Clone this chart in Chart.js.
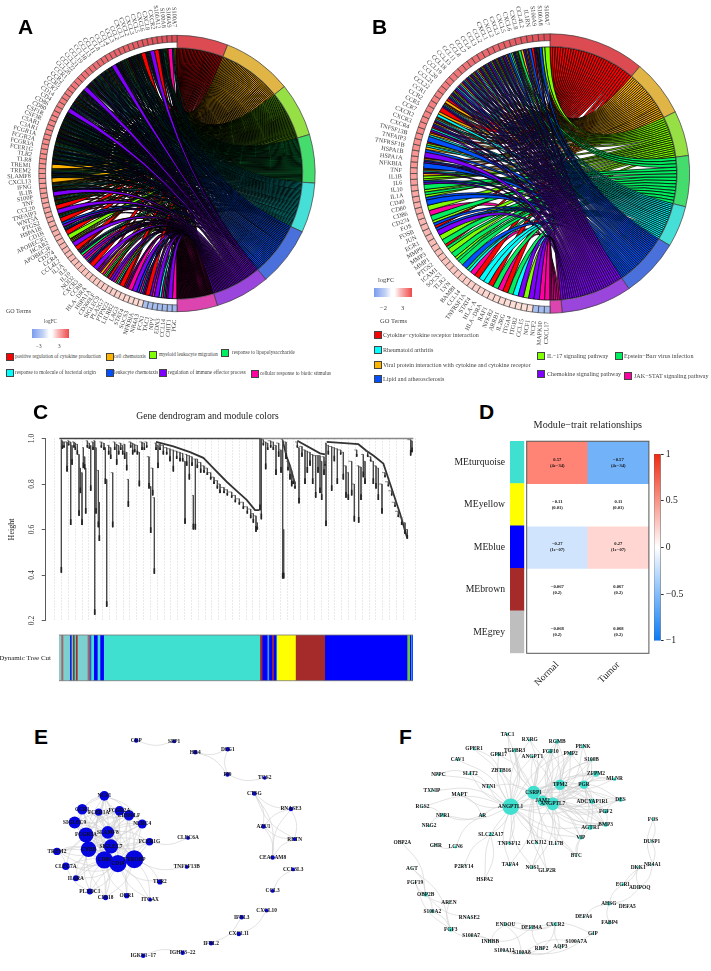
<!DOCTYPE html>
<html><head><meta charset="utf-8">
<script src="https://cdn.jsdelivr.net/npm/chart.js@4"></script>
<style>
html,body{margin:0;padding:0;background:#fff;width:711px;height:971px;overflow:hidden}
#p{position:relative;width:711px;height:971px;font-family:"Liberation Serif",serif;color:#333}
canvas{position:absolute}
.t{position:absolute;white-space:nowrap;line-height:1;transform:translateY(-50%)}
.s{position:absolute;border:1px solid #444;box-sizing:border-box;transform:translateY(-50%)}
.L{position:absolute;font:bold 21px "Liberation Sans",sans-serif;color:#000;line-height:1}
.g{position:absolute;height:9px}
</style></head><body><div id="p"></div>
<script>
// ---------- Panel A / B chord data ----------
const termNamesA=["positive regulation of cytokine production","cell chemotaxis","myeloid leukocyte migration","response to lipopolysaccharide","response to molecule of bacterial origin","leukocyte chemotaxis","regulation of immune effector process","cellular response to biotic stimulus"];
const termDegA=[21.5,29.5,22.6,20.4,21,25,23,17];
const geneA=["S100A7","S100A9","S100A8","S100A12","CXCR2","CXCL8","CXCL6","CXCL5","CXCL3","CXCL2","CXCL1","CCL2","CCL3","CCL4","CCL7","CCL8","CCL11","CCL13","CCL18","CCL19","CCL21","CCL22","CCL26","CCR1","CCR2","CCR5","CCR7","CD14","CD4","CD86","CD80","CSF1R","CSF3R","C5AR1","C3AR1","FCGR1A","FCGR2A","FCGR3A","FCER1G","TLR2","TLR8","TREM1","TREM2","SLAMF8","CXCL13","IFNG","IL1B","S100P","TNF","CCL20","TNFAIP3","WNT5A","PTGS2","HSPA1B","CD1B","APOBEC3G","HCAR2","APOBEC3F","CD274","CCR4","CCL4L2","IL1A","IL6","IL10","NOD2","CXCR3","CCR8","HLA\u2212DRA","HSPA1A","CD300LF","SIGLEC9","PLA2G7","PTPN22","LILRB2","LAG3","STAT4","SOCS3","NFKBIA","NR4A3","FCN1","TAC1","NPY","EDN3","CCL14","CHIT1","PGC"];
const logFCA=[3.0,2.9,2.9,2.8,2.8,2.7,2.7,2.6,2.6,2.5,2.5,2.5,2.4,2.4,2.3,2.3,2.3,2.2,2.2,2.1,2.1,2.1,2.0,2.0,2.0,1.9,1.9,1.9,1.8,1.8,1.8,1.7,1.7,1.7,1.6,1.6,1.6,1.5,1.5,1.5,1.5,1.4,1.4,1.4,1.3,1.3,1.3,1.3,1.2,1.2,1.2,1.2,1.1,1.1,1.1,1.1,1.0,1.0,1.0,1.0,.95,.95,.9,.9,.85,.85,.8,.8,.78,.75,.75,.72,.7,.68,.65,.62,.6,.58,.55,-1.0,-1.1,-1.2,-1.3,-1.4,-1.6,-1.8];
const geneTermsA=["0125","7","01234","1234567","0","6","12357","0","123457","012357","1234567","012347","123467","1234567","6","123457","012357","1234567","123457","1234567","1234567","0123457","6","1234567","123467","1234571","0123456","123457","6","1234567","0123457","123457","123457","012367","1234567","0123457","12347","012457","123457","123457","012357","1","12357","0123457","1","01247","012357","6","01247","01237","0","6","02347","0","56","0457","0","2","0127","6","0","0467","37","67","4567","0","6","067","17","237","06","67","247","0","067","7","6","57","467","0","67","6","47","367","6","7"];
const termNamesB=["Cytokine\u2212cytokine receptor interaction","Viral protein interaction with cytokine and cytokine receptor","IL\u221217 signaling pathway","Epstein\u2212Barr virus infection","Rheumatoid arthritis","Lipid and atherosclerosis","Chemokine signaling pathway","JAK\u2212STAT signaling pathway"];
const termDegB=[40,23.8,18.8,21.2,17.2,24.6,29.4,5];
const geneB=["S100A7","S100A8","S100A9","IL1RN","CCL4L2","CXCL8","CXCL6","CXCL5","CXCL3","CXCL2","CXCL1","CCL2","CCL3","CCL4","CCL7","CCL8","CCL11","CCL13","CCL18","CCL19","CCL20","CCL21","CCL22","CCR1","CCR2","CCR5","CCR7","CXCR2","CXCR3","CXCR4","TNFSF13B","TNFAIP3","TNFRSF1B","HSPA1B","HSPA1A","NFKBIA","TNF","IL1B","IL6","IL10","IL1A","CD40","CD80","CD86","CD274","FOS","FOSB","JUN","EGR1","MMP9","MMP3","MMP1","PTGS2","ICAM1","SOCS3","TLR2","LYN","BAMBI","CCL14","TNFRSF1A","STAT4","HLA\u2212A","HLA\u2212DRA","RAF1","NFKB2","ARRB1","IL2RG","ITGA4","ITGB2","CCL15","NCF1","NCF2","MAPK10","CXCL17"];
const logFCB=[3.0,2.9,2.8,2.8,2.7,2.6,2.6,2.5,2.5,2.4,2.4,2.3,2.3,2.2,2.2,2.1,2.1,2.0,2.0,2.0,1.9,1.9,1.8,1.8,1.8,1.7,1.7,1.6,1.6,1.6,1.5,1.5,1.5,1.4,1.4,1.4,1.3,1.3,1.3,1.2,1.2,1.2,1.1,1.1,1.1,1.0,1.0,1.0,.95,.95,.9,.9,.85,.85,.8,.8,.78,.75,.72,.7,.68,.65,.62,.6,.58,.56,.54,.52,.5,.48,.46,-1.1,-1.4,-1.6];
const geneTermsB=["2","25","013567","05","0156","13","01356","245","0156","01456","01256","0256","01456","01256","0146","01256","01456","01456","0146","0456","01256","01456","01","01456","0","14","0146","0156","046","014","5","024","15","6","0156","5","0146","12","256","3","23","25","5","2","7","3","25","05","6","2","3","03","2","3","23","3","5","34","7","0","4","4","0","3","7","0","3","4","6","2","6","6","7","7"];
const ringColors=["#dc4a52","#e0b545","#96e045","#45dc6e","#45dfd8","#4a70dc","#9a45dc","#dc45b0"];
const ribbonColors=["#ff0000","#ffb400","#7fff00","#00ee60","#00ffff","#0050ff","#8000ff","#ff00a0"];
const ribbonOrder=[7,0,1,2,3,4,5,6];
// ---------- Panel C data (x = gene position, y = height) ----------
const stemX=[184,187,192,201,206,212,216,222,226,232,237,241,246,250,254,257,262,268,272,279,284,288,295,298,304,312,316,320,326,332,338,344,350,356,362,368,374,380,385,392,398,404,412,418,426,433,440,447,452,458,463,468,474,480,490,500,510,520,530,540,548,555,560,568,576,580,586,592,602,612,622,632,642,652,660,672,682,695,706,718,730,742,752,760,768,772,780,784,790,797,803,812,820,828,836,843,848,851,858,864,870,875,880,885,892,897,906,915,922,930,938,947,954,960,965,972,975,978,985,995,1003,1012,1022,1030,1038,1045,1055,1063,1070,1076,1083,1090,1095,1103,1112,1120,1128,1135,1146,1155,1165,1175,1185,1195,1205,1215,1222,1232,1236];
const stemTop=[.995,.99,.985,.985,.99,.985,.97,.985,.98,.975,.93,.87,.85,.96,.92,.87,.99,.98,.97,.985,.99,.96,.86,.72,.985,.98,.96,.82,.97,.96,.85,.985,.975,.97,.98,.97,.975,.94,.82,.985,.98,.975,.97,.94,.985,.98,.985,.92,.79,.87,.74,.98,.97,.975,.97,.96,.955,.95,.945,.94,.935,.90,.93,.925,.92,.75,.91,.91,.895,.88,.87,.85,.83,.815,.80,.785,.775,.765,.75,.735,.72,.70,.69,.67,.66,.63,1,1,.995,.985,.98,.99,.985,.97,.98,.95,.995,.60,.985,.9,.88,.86,.83,.81,.985,.96,.965,.95,.945,.94,.93,.925,.925,.925,.9,.92,.9,.98,.97,.965,.96,.955,.95,.94,.88,.85,.9,.8,.95,.88,.875,.93,.9,.945,.92,.90,.88,.87,.80,.85,.81,.77,.72,.68,.655,.63,.60,.995,.99];
const stemBottom=[.41,.955,.96,.855,.97,.62,.885,.96,.95,.93,.66,.76,.62,.87,.865,.67,.96,.955,.77,.95,.225,.67,.61,.55,.96,.95,.80,.26,.93,.91,.61,.95,.885,.93,.95,.93,.91,.86,.70,.96,.93,.94,.93,.79,.95,.95,.96,.78,.585,.75,.405,.95,.87,.95,.93,.93,.90,.855,.91,.90,.90,.625,.88,.82,.88,.60,.60,.87,.85,.85,.84,.82,.80,.78,.76,.76,.75,.74,.72,.71,.69,.67,.65,.63,.59,.60,.685,.645,.97,.865,.95,.96,.95,.84,.92,.85,.385,.385,.91,.86,.82,.79,.80,.78,.96,.715,.92,.80,.85,.88,.80,.74,.85,.76,.73,.84,.88,.615,.93,.77,.90,.80,.93,.82,.74,.73,.75,.635,.92,.63,.73,.83,.80,.92,.90,.80,.78,.73,.67,.83,.79,.75,.70,.655,.62,.58,.56,.925,.94];
const stairX=[[468,520,570,610,640,680,710,740,765,778],[848,860,870,885],[892,960,975],[980,1075,1100,1120,1150,1175,1200,1222]];
const stairH=[[.985,.965,.94,.915,.87,.81,.77,.73,.685,.685],[.99,.92,.88,.80],[.99,.935,.93],[.985,.975,.945,.925,.89,.78,.67,.56]];
const heightTicks=[.2,.4,.6,.8,1];
const cutWidths=[6,6,20,5,4,5,4,5,30,6,5,8,11,8,11,469,7,15,5,9,5,8,2,56,88,247,8,4,3,3];
const cutColors=["#8cc9c9","#a06868","#7dd0d0","#1a1ae0","#40e0d0","#a52a2a","#40e0d0","#a52a2a","#7dd0d0","#a06868","#4050d0","#40e0d0","#0000ff","#40e0d0","#0000ff","#40e0d0","#a52a2a","#0000ff","#40a0d0","#0000ff","#a52a2a","#0000ff","#40e0d0","#ffff00","#a52a2a","#0000ff","#70c050","#0000ff","#40e0d0","#0000ff"];
// ---------- Panel D data ----------
const modules=["MEturquoise","MEyellow","MEblue","MEbrown","MEgrey"];
const moduleColors=["#40e0d0","#ffff00","#0000ff","#a52a2a","#bebebe"];
const traits=["Normal","Tumor"];
const corrNormal=[.57,-.11,-.27,-.067,-.068];
const corrTumor=[-.57,.11,.27,.067,.068];
const pNormal=["4e\u221234","0.01","1e\u221207","0.2","0.2"];
const pTumor=["4e\u221234","0.01","1e\u221207","0.2","0.2"];
const colorbarTicks=[-1,-.5,0,.5,1];
// ---------- Panel E data ----------
const nodesE=["CRP","SPP1","HR4","DSG1","PI9","TGS2","CTSG","RNASE3","AZU1","RETN","CEACAM8","CCL3L3","CCL3","CXCL10","IFNL3","CXCL11","IFNL2","IGHV3\u221222","IGKV1\u221217","NCF1","CCR1","FCER1A","FCGR2A","CD300LF","SIGLEC9","NLRC4","FCGR3A","SLAMF8","SIGLEC7","FCER1G","CLEC6A","CYBB","TREM2","CD86","CD14","TYROBP","TNFSF13B","CLEC7A","IL1RA","TLR2","PLXDC1","CD118","OLR1","ITGAX"];
const xE=[403,523,590,693,692,810,777,893,806,905,835,900,835,816,737,728,640,550,425,302,232,284,350,380,208,422,244,313,323,445,567,252,152,302,345,397,563,180,212,478,256,306,373,447];
const yE=[117,120,155,145,226,237,287,337,393,434,493,531,600,663,684,738,768,798,808,295,338,347,343,357,380,385,420,412,457,442,430,466,473,500,512,498,523,521,559,571,602,621,615,628];
const degE=[6,5,6,6,6,5,6,6,6,5,6,5,5,5,6,6,6,6,6,13,14,10,13,14,16,12,20,17,19,10,5,21,10,23,23,24,5,10,8,7,8,7,7,5];
const hubsE=[[0,[1]],[2,[3,4]],[3,[4]],[4,[5]],[6,[7,8,10,9]],[7,[9,8,10]],[8,[9,10]],[9,[10]],[11,[12]],[13,[15]],[14,[16]],[17,[18]],
[35,[19,20,21,22,23,24,25,26,27,28,29,31,32,33,34,36,37,38,39,40,41,42,43]],[34,[19,20,21,22,23,24,25,26,27,28,29,31,32,33,37,38,39,40,41,42,43]],[33,[19,20,21,22,23,24,25,26,27,28,29,31,32,37,38,40,41,42,43]],[31,[19,20,21,22,23,24,25,26,27,28,29,32,37,38,40,41]],[26,[19,20,21,22,23,24,25,27,28,29,32,37,38,41]],[28,[19,20,21,22,23,24,25,27,29,32]],[27,[19,20,21,22,23,24,25,29]],[19,[20,21,22,23,24,25]],[22,[20,21,23,24,25]],[20,[21,23,24]],[23,[21,24,25]],[29,[30]],[37,[32,40]]];
// ---------- Panel F data ----------
const nodesF=["TAC1","RXRG","RGMB","PENK","FGF10","PMP2","TGFBR3","GPR17","GPER1","ANGPT1","CAV1","S100B","ZBTB16","SLIT2","NPPC","ZFPM2","MLNR","TPM2","PGR","NTN1","TXNIP","MAPT","CSRP1","DES","ADCYAP1R1","JAM2","ANGPTL7","ANGPTL1","RGS2","NPR1","AR","FGF2","NRG2","BMP3","AGTR1","SLC22A17","VIP","KCNJ12","IL17B","TNFSF12","GHR","LCN6","OBP2A","BTC","TAFA4","P2RY14","NOS1","GLP2R","HSPA2","AGT","FGF19","OBP2B","AREN","S100A2","RNASE2","FGF3","S100A7","ENDOU","INHBB","DEFB4A","CXCR2","GIP","S100A7A","AQP3","RBP2","S100A8","S100A12","DEFA6","DEFA5","FABP4","AHSG","ADIPOQ","EGR1","DKK1","NR4A1","DUSP1","FOS"];
const xF=[500,570,656,737,635,698,522,472,395,578,343,764,480,383,283,778,836,665,740,441,263,349,582,855,766,610,642,510,233,297,421,808,254,808,760,448,730,591,652,505,275,337,170,716,508,363,578,624,428,200,210,243,316,264,380,322,386,494,446,576,650,768,716,666,607,545,490,739,876,820,818,915,862,910,955,953,957];
const yF=[99,117,122,138,153,161,151,163,146,170,180,181,216,225,228,225,242,260,260,267,279,290,285,308,313,311,321,330,330,357,358,345,392,388,396,418,429,446,449,447,453,459,446,487,516,520,524,534,563,526,571,610,636,664,684,722,742,707,760,716,705,735,759,776,783,797,789,681,649,701,640,589,578,523,515,440,370];
const degF=[4,4,6,5,6,5,5,5,4,4,4,4,4,4,3,8,5,14,11,4,3,3,18,6,7,14,17,22,3,5,4,6,3,6,7,5,5,4,3,4,3,4,2,3,4,2,4,2,2,2,2,6,2,5,3,6,3,4,3,4,5,3,2,3,3,3,3,3,2,4,5,3,4,3,3,3,3];
const hubsF=[[27,[0,1,2,6,7,8,9,10,12,13,14,19,20,21,22,24,25,26,28,29,30,35,37,38,39,44,46,17,18,34,36,47,48,33,3]],[22,[0,1,2,4,5,6,7,9,11,12,15,16,17,18,19,23,24,25,26,31,33,34,36,37,38,39,43,44,46,47]],[26,[1,2,3,4,5,6,9,11,15,16,17,18,23,24,25,31,33,34,36,37,38,43,46]],[25,[2,4,5,9,11,15,17,18,23,24,31,33,34,36]],[17,[2,3,4,5,11,15,16,18,23,24,31,33,34]],[18,[3,5,11,15,16,23,24,31,33,34,36]],[13,[19,14]],[8,[12]],[29,[28,30,32]],[30,[21,41]],[40,[41]],[45,[35]],[48,[35]],[24,[31]],[31,[33,23]],[33,[34]],[36,[43]],[34,[43]],[49,[51,55]],[50,[51,55]],[51,[42,52,53,54]],[52,[55]],[53,[55]],[55,[56]],[56,[58,66]],[57,[58,59,60,65]],[58,[59]],[59,[60,61,64]],[60,[63,64]],[62,[65]],[63,[65]],[64,[66]],[66,[65]],[61,[65]],[70,[67,69,68,71,72]],[71,[73,74]],[72,[73,74]],[74,[75,76]],[75,[76]]];

// ---------- Layout helpers ----------
const root=document.getElementById('p');
Chart.defaults.font.family='"Liberation Serif",serif';
Chart.defaults.color='#222';
Chart.defaults.animation=false;
Chart.defaults.plugins.legend.display=false;
Chart.defaults.plugins.tooltip.enabled=false;
function mk(left,top,w,h,cfg){
  const c=document.createElement('canvas');c.width=w;c.height=h;
  c.style.cssText=`left:${left}px;top:${top}px;width:${w}px;height:${h}px`;root.appendChild(c);
  cfg.options=Object.assign({responsive:false,maintainAspectRatio:false},cfg.options);
  return new Chart(c,cfg);
}
function text(s,x,y,size,extra){const d=document.createElement('div');d.className='t';d.textContent=s;
  d.style.cssText=`left:${x}px;top:${y}px;font-size:${size}px;`+(extra||'');root.appendChild(d);}
function swatch(c,x,y,w,h){const d=document.createElement('div');d.className='s';
  d.style.cssText=`left:${x}px;top:${y}px;width:${w}px;height:${h}px;background:${c}`;root.appendChild(d);}
function letter(s,x,y){const d=document.createElement('div');d.className='L';d.textContent=s;
  d.style.cssText=`left:${x}px;top:${y}px`;root.appendChild(d);}
function gradBar(x,y,w){const d=document.createElement('div');d.className='g';
  d.style.cssText=`left:${x}px;top:${y}px;width:${w}px;background:linear-gradient(90deg,#7a9cee,#c4d2f6 30%,#fff 46%,#fff 54%,#f9b8b8 70%,#ee4a4a)`;root.appendChild(d);}
function lerpHex(a,b,t){const p=h=>[1,3,5].map(i=>parseInt(h.substr(i,2),16));const A=p(a),B=p(b);
  return 'rgb('+A.map((v,i)=>Math.round(v+(B[i]-v)*t)).join(',')+')';}
function fcColor(v){
  if(v<0) return lerpHex('#b4c8f2','#9cb6ee',Math.min(1,-v/2));
  if(v<1.5) return lerpHex('#fde0d8','#f98e8c',Math.max(0,(v-.5)));
  return lerpHex('#f98e8c','#e04a55',(v-1.5)/1.5);
}
// ---------- Chord panels ----------
function chord(left,top,w,h,pad,termDeg,genes,fc,memb,labelOffset,stroke,labelSize){
  const N=genes.length,T=termDeg.length,sum=termDeg.reduce((a,b)=>a+b,0);
  const termVals=termDeg.map(d=>d/sum*N);
  const geneVals=genes.map(()=>1);
  const plug={id:'chord',
   beforeDatasetsDraw(ch){
     const arcs=ch.getDatasetMeta(0).data,c=ch.ctx;
     const R=arcs[0].outerRadius,cx=arcs[0].x,cy=arcs[0].y,th=R*0.049;
     for(let i=T;i<arcs.length;i++) arcs[i].innerRadius=R-th;
     const counts=termDeg.map(()=>0),seen=termDeg.map(()=>0);
     memb.forEach(m=>{for(const d of m)counts[+d]++;});
     const rib=[];
     memb.forEach((m,gi)=>{
       const a=arcs[T+N-1-gi],span=(a.endAngle-a.startAngle)/m.length;
       [...m].forEach((d,k)=>{const t=+d;
         const A=arcs[t],ts=(A.endAngle-A.startAngle)/counts[t];
         rib.push({t,a1:a.startAngle+(m.length-1-k)*span,a2:a.startAngle+(m.length-k)*span,b1:A.startAngle+seen[t]*ts,b2:A.startAngle+(seen[t]+1)*ts});
         seen[t]++;});
     });
     const r=arcs[0].innerRadius-0.5;
     const px=a=>cx+r*Math.cos(a),py=a=>cy+r*Math.sin(a);
     c.save();c.lineWidth=stroke;c.strokeStyle='#000';
     ribbonOrder.forEach(t=>{rib.filter(q=>q.t===t).forEach(q=>{
       c.beginPath();c.moveTo(px(q.a1),py(q.a1));c.arc(cx,cy,r,q.a1,q.a2);
       c.quadraticCurveTo(cx,cy,px(q.b1),py(q.b1));c.arc(cx,cy,r,q.b1,q.b2);
       c.quadraticCurveTo(cx,cy,px(q.a1),py(q.a1));c.closePath();
       c.fillStyle=ribbonColors[t];c.fill();c.stroke();});});
     c.restore();
   },
   afterDatasetsDraw(ch){
     const arcs=ch.getDatasetMeta(0).data,c=ch.ctx,R=arcs[0].outerRadius,cx=arcs[0].x,cy=arcs[0].y;
     c.save();c.font=labelSize+'px "Liberation Serif"';c.fillStyle='#3c3c3c';c.textAlign='right';c.textBaseline='middle';
     genes.forEach((g,i)=>{const a=arcs[T+N-1-i],m=(a.startAngle+a.endAngle)/2;
       c.save();c.translate(cx+(R+labelOffset)*Math.cos(m),cy+(R+labelOffset)*Math.sin(m));c.rotate(m+Math.PI);
       c.fillText(g,0,0);c.restore();});
     c.restore();
   }};
  return mk(left,top,w,h,{type:'doughnut',plugins:[plug],
    data:{labels:termDeg.map((_,i)=>'t'+i).concat(genes.slice().reverse()),
      datasets:[{data:termVals.concat(geneVals),
        backgroundColor:ringColors.concat(fc.slice().reverse().map(fcColor)),
        borderColor:'#3a3a3a',borderWidth:.7}]},
    options:{cutout:'91%',layout:{padding:pad}}});
}
chord(0,0,355,350,{left:38.5,right:39.5,top:35,bottom:38},termDegA,geneA,logFCA,geneTermsA,8,.85,6.2);
chord(355,0,356,350,{left:55,right:21,top:33.5,bottom:36.5},termDegB,geneB,logFCB,geneTermsB,8.5,.75,6.2);

// Panel A/B legends
const legendSpotsA=[[6,357,15],[106,357,114],[149,355,159],[221,353,232],[6,373,15],[106,373,114],[159,373,168],[251,374,260]];
termNamesA.forEach((n,i)=>{const q=legendSpotsA[i];swatch(ribbonColors[i],q[0],q[1],7.5,8);text(n,q[2],q[1],5.1,'color:#444');});
const legendSpotsB=[[374,335,383],[374,365,383],[537,356,547],[615,356,624],[374,350,383],[374,379,383],[537,374,547],[624,376,634]];
termNamesB.forEach((n,i)=>{const q=legendSpotsB[i];swatch(ribbonColors[i],q[0],q[1],7.5,8);text(n,q[2],q[1],6.1,'color:#444');});
text('GO Terms',6,311,6,'color:#444');text('logFC',44,322,5.2,'color:#444');gradBar(32,329,37);
text('\u22123',36,347,5.2,'color:#444');text('3',58,347,5.2,'color:#444');
text('logFC',378,280,6.5,'color:#444');gradBar(374,288,38);
text('\u22122',380,308,6.5,'color:#444');text('3',401,308,6.5,'color:#444');text('GO Terms',380,321,6.5,'color:#444');
[['A',18,16],['B',372,16],['C',33,401],['D',479,401],['E',34,726],['F',399,726]].forEach(q=>letter(q[0],q[1],q[2]));

// ---------- Panel C ----------
const segs=[],caps=[],ties=[];
stemX.forEach((x,i)=>{
  segs.push({x,y:stemTop[i]},{x,y:stemBottom[i]},{x:null,y:null});
  const len=stemTop[i]-stemBottom[i];
  caps.push({x,y:stemBottom[i]+Math.min(.025,len*.4)},{x,y:stemBottom[i]},{x:null,y:null});
  if(i>0&&stemX[i-1]>x-14) ties.push({x:stemX[i-1],y:stemTop[i]},{x,y:stemTop[i]},{x:null,y:null});
});
const stairSets=stairX.map((xs,k)=>({data:xs.map((x,i)=>({x,y:stairH[k][i]})),showLine:true,pointRadius:0,borderColor:'#333',borderWidth:1.8}));
mk(0,405,444,225,{type:'scatter',data:{datasets:[
  {data:caps,showLine:true,pointRadius:0,borderColor:'#222',borderWidth:1.6,spanGaps:false},
  {data:segs,showLine:true,pointRadius:0,borderColor:'#4a4a4a',borderWidth:.9,spanGaps:false},
  {data:ties,showLine:true,pointRadius:0,borderColor:'#555',borderWidth:.7,spanGaps:false},
  ...stairSets,
  {data:[{x:178,y:1},{x:780,y:1}],showLine:true,pointRadius:0,borderColor:'#444',borderWidth:1.4},
  {data:[{x:780,y:1},{x:1240,y:1}],showLine:true,pointRadius:0,borderColor:'#888',borderWidth:1.4}
]},options:{clip:false,layout:{padding:{right:29,bottom:5}},
  plugins:{title:{display:true,text:'Gene dendrogram and module colors',color:'#222',font:{size:9.6,weight:'normal'},padding:{top:6,bottom:16}}},
  scales:{
   x:{type:'linear',min:137,max:1245,border:{display:false,dash:[1,2]},grid:{color:'#c9c9c9',drawTicks:false,lineWidth:.8},ticks:{display:false,stepSize:20.5,autoSkip:false}},
   y:{min:.2,max:1,afterBuildTicks(s){s.ticks=heightTicks.map(value=>({value}));},
      afterFit(s){s.width=45.7;},
      border:{color:'#333',width:.8},grid:{drawOnChartArea:false,color:'#333',tickLength:4,lineWidth:.8},
      title:{display:true,text:'Height',font:{size:8},color:'#222',padding:{top:7,bottom:0}},
      ticks:{minRotation:90,maxRotation:90,crossAlign:'center',padding:5,font:{size:7.5},color:'#333',callback:v=>v.toFixed(1)}}
  }}});
mk(0,630,415,55,{type:'bar',plugins:[{id:'edge',afterDatasetsDraw(ch){const a=ch.chartArea,c=ch.ctx;c.save();c.strokeStyle='#777';c.lineWidth=.8;
   c.beginPath();c.moveTo(a.left,a.top);c.lineTo(a.right,a.top);c.moveTo(a.left,a.bottom);c.lineTo(a.right,a.bottom);c.stroke();c.restore();}}],
  data:{labels:['Dynamic Tree Cut'],datasets:cutWidths.map((w,i)=>({data:[w],backgroundColor:cutColors[i],barPercentage:1,categoryPercentage:1}))},
  options:{indexAxis:'y',layout:{padding:{right:2,top:5,bottom:4.3}},
   scales:{x:{stacked:true,display:false,min:0,max:cutWidths.reduce((a,b)=>a+b,0)},
     y:{stacked:true,afterFit(s){s.width=59;s.paddingTop=0;s.paddingBottom=0;},border:{display:false},grid:{display:false,drawTicks:false},ticks:{padding:8,font:{size:7},color:'#222'}}}}});

// ---------- Panel D ----------
function corrColor(v){const t=Math.max(0,(Math.abs(v)-.12)*1.28);return v<0?lerpHex('#ffffff','#0a7af5',t):lerpHex('#ffffff','#ff2a10',t);}
mk(430,436,96,222,{type:'bar',data:{labels:modules,datasets:[{data:modules.map(()=>1),backgroundColor:moduleColors,barPercentage:1,categoryPercentage:1}]},
  options:{indexAxis:'y',layout:{padding:{right:1.7,top:5,bottom:4.7}},
   scales:{x:{display:false,min:0,max:1},y:{afterFit(s){s.width=80;s.paddingTop=0;s.paddingBottom=0;},border:{display:false},grid:{display:false,drawTicks:false},ticks:{padding:5,font:{size:9.7},color:'#222'}}}}});
const cellFmt=v=>(v<0?'\u2212':'')+String(Math.abs(v));
mk(520,415,143.4,281,{type:'bar',
  plugins:[{id:'cells',afterDatasetsDraw(ch){const c=ch.ctx,a=ch.chartArea;c.save();c.fillStyle='#111';c.textAlign='center';c.textBaseline='middle';c.font='bold 4.6px "Liberation Serif"';
    ch.data.datasets.forEach((ds,r)=>{ch.getDatasetMeta(r).data.forEach((el,k)=>{const y=(el.y+el.base)/2;
      const v=k===0?corrNormal[r]:corrTumor[r],p=k===0?pNormal[r]:pTumor[r];
      c.fillText(cellFmt(v),el.x,y-3);c.fillText('('+p+')',el.x,y+3);});});
    c.strokeStyle='#555';c.lineWidth=1;c.strokeRect(a.left,a.top,a.right-a.left,a.bottom-a.top);c.restore();}}],
  data:{labels:traits,datasets:modules.map((m,r)=>({label:m,data:[1,1],backgroundColor:[corrColor(corrNormal[r]),corrColor(corrTumor[r])],barPercentage:1,categoryPercentage:1}))},
  options:{layout:{padding:{left:6.7,right:14.1}},
   plugins:{title:{display:true,text:'Module\u2212trait relationships',color:'#222',font:{size:10.2,weight:'normal'},padding:{top:4,bottom:10}}},
   scales:{y:{display:false,stacked:true,min:0,max:5,reverse:true},
     x:{stacked:true,afterFit(s){s.height=42.7;s.paddingLeft=0;s.paddingRight=0;},border:{display:false},grid:{display:false,drawTicks:false},ticks:{minRotation:45,maxRotation:45,padding:6,font:{size:9.7},color:'#222'}}}}});
mk(650,445,61,205,{type:'bar',data:{labels:[''],datasets:[{data:[[-1,1]],barPercentage:1,categoryPercentage:1,borderColor:'#555',borderWidth:.6,
   backgroundColor(ctx){const {ctx:c,chartArea:a}=ctx.chart;if(!a)return '#fff';const g=c.createLinearGradient(0,a.bottom,0,a.top);
     g.addColorStop(0,'#0a7af5');g.addColorStop(.5,'#ffffff');g.addColorStop(1,'#f02a10');return g;}}]},
  options:{layout:{padding:{left:4,top:9,bottom:9.3}},
   scales:{x:{display:false},
     y:{position:'right',min:-1,max:1,afterBuildTicks(s){s.ticks=colorbarTicks.map(value=>({value}));},afterFit(s){s.width=50.3;s.paddingTop=0;s.paddingBottom=0;},
       border:{display:false},grid:{drawOnChartArea:false,color:'#333',tickLength:3},
       ticks:{padding:2,font:{size:9.7},color:'#222',callback:v=>String(v).replace('-','\u2212')}}}}});

// ---------- Networks E, F ----------
function network(left,w,names,xs,ys,deg,hubs,color){
  const edges=[];
  hubs.forEach(h=>h[1].forEach(j=>{const i=h[0];
    const dx=xs[j]-xs[i],dy=ys[j]-ys[i],s=((i+j)%2?1:-1)*.12;
    edges.push({x:xs[i],y:ys[i]},{x:(xs[i]+xs[j])/2-dy*s,y:(ys[i]+ys[j])/2+dx*s},{x:xs[j],y:ys[j]},{x:null,y:null});}));
  mk(left,695,w,276,{type:'scatter',
   plugins:[{id:'nodeText',afterDatasetsDraw(ch){const c=ch.ctx;c.save();c.font='bold 5.4px "Liberation Serif"';c.fillStyle='#111';c.textAlign='center';c.textBaseline='middle';
     ch.getDatasetMeta(0).data.forEach((p,i)=>c.fillText(names[i],p.x,p.y));c.restore();}}],
   data:{datasets:[
    {data:xs.map((x,i)=>({x,y:ys[i]})),pointRadius:deg.map(d=>d/3*1.12),pointBackgroundColor:color,pointBorderWidth:0},
    {data:edges,showLine:true,pointRadius:0,borderColor:'#cfcfcf',borderWidth:.6,tension:.4,spanGaps:false}]},
   options:{clip:false,scales:{x:{display:false,min:0,max:w*3},y:{display:false,min:0,max:828,reverse:true}}}});
}
network(0,340,nodesE,xE,yE,degE,hubsE,'#0505e0');
network(340,371,nodesF,xF,yF,degF,hubsF,'#40e0d0');
</script></body></html>
